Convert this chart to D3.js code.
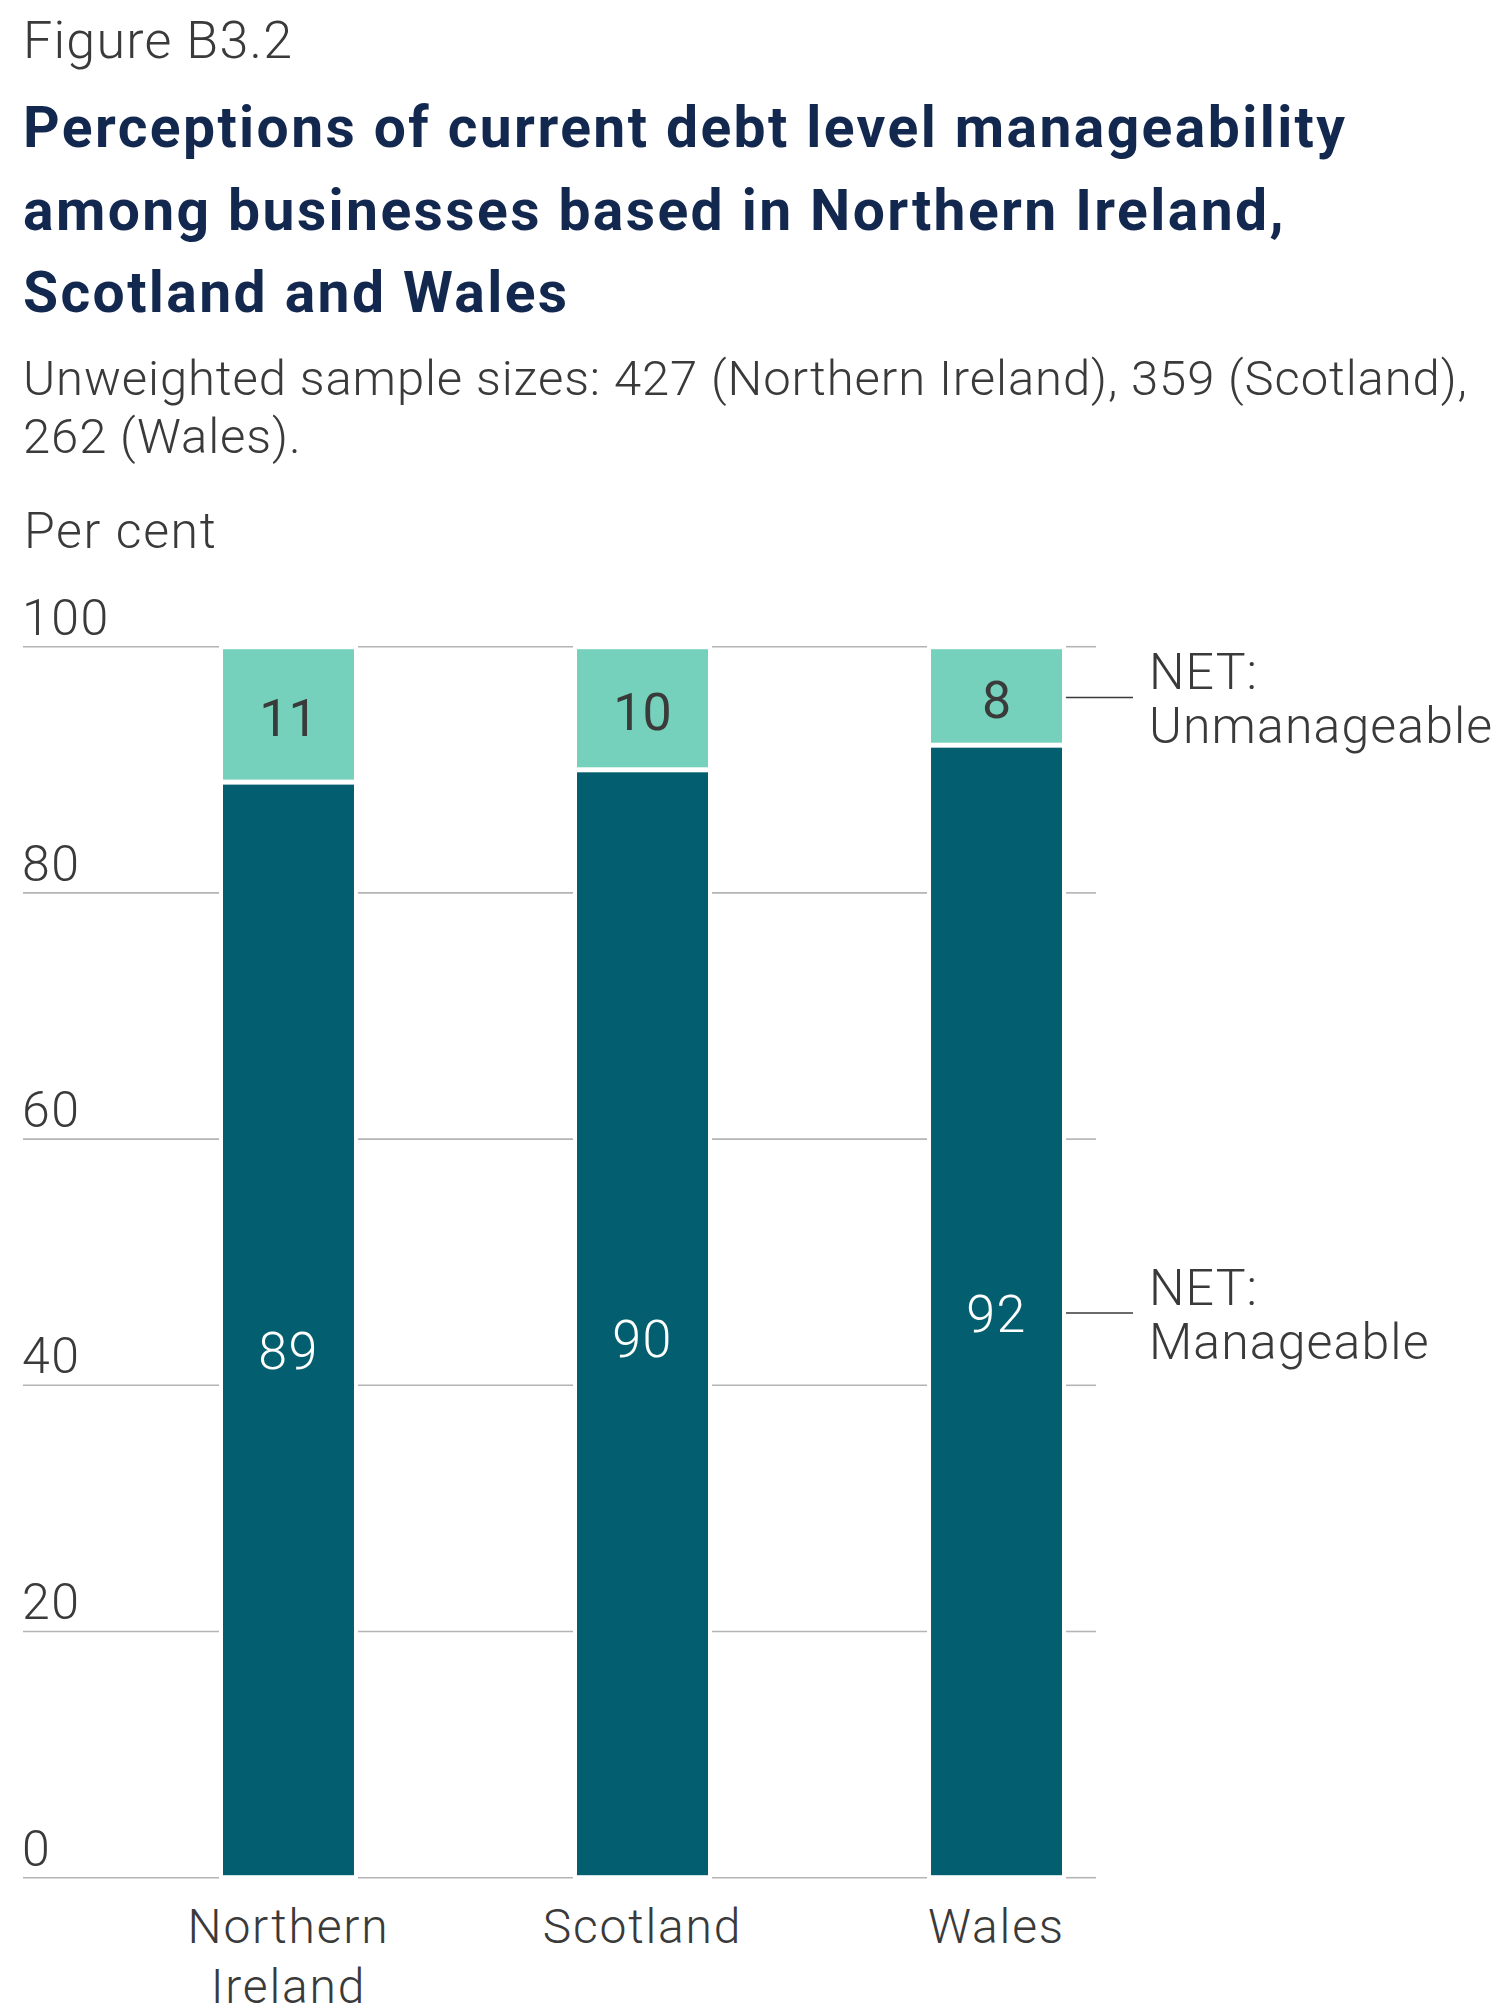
<!DOCTYPE html>
<html>
<head>
<meta charset="utf-8">
<script src="https://cdn.jsdelivr.net/npm/d3@7/dist/d3.min.js"></script>
<style>
  html, body { margin: 0; padding: 0; background: #ffffff; }
  svg { display: block; }
  text { font-family: Roboto, "Noto Sans", sans-serif; }
</style>
</head>
<body>
<svg id="chart" width="1501" height="2014"></svg>
<script>
// Data
const categories = ["Northern Ireland", "Scotland", "Wales"];
const categoryLines = [["Northern", "Ireland"], ["Scotland"], ["Wales"]];
const manageable = [89, 90, 92];
const unmanageable = [11, 10, 8];
const seriesNames = ["NET: Manageable", "NET: Unmanageable"];
const yTicks = [0, 20, 40, 60, 80, 100];

const figureLabel = "Figure B3.2";
const titleLines = [
  "Perceptions of current debt level manageability",
  "among businesses based in Northern Ireland,",
  "Scotland and Wales"
];
const subtitleLines = [
  "Unweighted sample sizes: 427 (Northern Ireland), 359 (Scotland),",
  "262 (Wales)."
];
const unitLabel = "Per cent";

// Styles
const colText = "#3a3a3a";
const colTitle = "#13284f";
const colGrid = "#b4b4b4";
const colDark = "#035f6f";
const colLight = "#75d1bb";
const lightSpacing = 1.2;

const svg = d3.select("#chart");

// Spread a block of lines so that its first line spans the given width
function spreadTo(sel, width) {
  const first = sel.nodes()[0];
  const w = first.getComputedTextLength();
  const n = first.textContent.length;
  const ls = Math.max(0, (width - w) / (n - 1));
  sel.attr("letter-spacing", ls);
}

// Header block
svg.append("text").attr("x", 23).attr("y", 58)
  .attr("font-size", 52).attr("font-weight", 300).attr("fill", colText)
  .attr("letter-spacing", lightSpacing)
  .text(figureLabel);

const titleSel = svg.append("g").selectAll("text").data(titleLines).join("text")
  .attr("x", 23).attr("y", (d, i) => 147 + i * 82.5)
  .attr("font-size", 57).attr("font-weight", 700).attr("fill", colTitle)
  .text(d => d);
spreadTo(titleSel, 1322);

const subSel = svg.append("g").selectAll("text").data(subtitleLines).join("text")
  .attr("x", 23).attr("y", (d, i) => 395 + i * 58)
  .attr("font-size", 49).attr("font-weight", 300).attr("fill", colText)
  .text(d => d);
spreadTo(subSel, 1444);

svg.append("text").attr("x", 24).attr("y", 548)
  .attr("font-size", 50).attr("font-weight", 300).attr("fill", colText)
  .attr("letter-spacing", 1.6)
  .text(unitLabel);

// Scales
const y = d3.scaleLinear().domain([0, 100]).range([1877.7, 646.7]);
const x = d3.scaleBand().domain(categories).range([46, 1239])
  .paddingInner(0.63).paddingOuter(0.5);

const gridLeft = 23, gridRight = 1096, barGap = 4, segInset = 2.5;

// Gridlines broken around each bar column
const gaps = categories.map(c => [x(c) - barGap, x(c) + x.bandwidth() + barGap]);
const pieces = [];
let start = gridLeft;
gaps.forEach(g => { pieces.push([start, g[0]]); start = g[1]; });
pieces.push([start, gridRight]);

const grid = svg.append("g");
yTicks.forEach(t => {
  grid.selectAll(null).data(pieces).join("line")
    .attr("x1", d => d[0]).attr("x2", d => d[1])
    .attr("y1", y(t)).attr("y2", y(t))
    .attr("stroke", colGrid).attr("stroke-width", 1.6);
});

// Y axis tick labels, sitting above their gridlines
const yAxis = d3.axisLeft(y).tickValues(yTicks).tickSize(0).tickFormat(d3.format("d"));
const yg = svg.append("g").call(yAxis);
yg.select(".domain").remove();
yg.selectAll(".tick text")
  .attr("x", 22).attr("dy", 0).attr("y", -12.7)
  .attr("text-anchor", "start")
  .attr("font-size", 50).attr("font-weight", 300).attr("fill", colText)
  .attr("letter-spacing", 1.5)
  .attr("font-family", "Roboto, 'Noto Sans', sans-serif");

// Stacked bars
const rows = categories.map((c, i) => ({ cat: c, manageable: manageable[i], unmanageable: unmanageable[i] }));
const stack = d3.stack().keys(["manageable", "unmanageable"])(rows);
const fills = [colDark, colLight];

const barsG = svg.append("g");
stack.forEach((layer, li) => {
  barsG.selectAll(null).data(layer).join("rect")
    .attr("x", d => x(d.data.cat))
    .attr("width", x.bandwidth())
    .attr("y", d => y(d[1]) + segInset)
    .attr("height", d => y(d[0]) - y(d[1]) - 2 * segInset)
    .attr("fill", fills[li]);
});

// Value labels
const darkLabelDrop = 569;
barsG.selectAll(null).data(stack[0]).join("text")
  .attr("x", d => x(d.data.cat) + x.bandwidth() / 2)
  .attr("y", d => y(d[1]) + darkLabelDrop + 18)
  .attr("text-anchor", "middle")
  .attr("font-size", 52).attr("font-weight", 300).attr("fill", "#ffffff")
  .attr("letter-spacing", 1.5)
  .text(d => d.data.manageable);

barsG.selectAll(null).data(stack[1]).join("text")
  .attr("x", d => x(d.data.cat) + x.bandwidth() / 2)
  .attr("y", d => (y(d[0]) + y(d[1])) / 2 + 4 + 18)
  .attr("text-anchor", "middle")
  .attr("font-size", 52).attr("font-weight", 400).attr("fill", colText)
  .text(d => d.data.unmanageable);

// Category labels
const catG = svg.append("g");
categories.forEach((c, i) => {
  catG.selectAll(null).data(categoryLines[i]).join("text")
    .attr("x", x(c) + x.bandwidth() / 2)
    .attr("y", (d, j) => 1943 + j * 60)
    .attr("text-anchor", "middle")
    .attr("font-size", 48).attr("font-weight", 300).attr("fill", colText)
    .attr("letter-spacing", 1.8)
    .text(d => d);
});

// Series annotations pointing at the last bar
const lastIdx = categories.length - 1;
const lastCat = categories[lastIdx];
const annY = [
  y(manageable[lastIdx] / 2),
  y(manageable[lastIdx] + unmanageable[lastIdx] / 2)
];
const annG = svg.append("g");
seriesNames.forEach((name, i) => {
  const ly = annY[i] + 1.5;
  const x0 = x(lastCat) + x.bandwidth() + barGap;
  annG.append("line")
    .attr("x1", x0).attr("x2", x0 + 67)
    .attr("y1", ly).attr("y2", ly)
    .attr("stroke", colText).attr("stroke-width", 1.5);
  const parts = name.split(" ");
  annG.selectAll(null).data(parts).join("text")
    .attr("x", 1149)
    .attr("y", (d, j) => ly - 8 + j * 54)
    .attr("font-size", 50).attr("font-weight", 300).attr("fill", colText)
    .attr("letter-spacing", 1.1)
    .text(d => d);
});
</script>
</body>
</html>
